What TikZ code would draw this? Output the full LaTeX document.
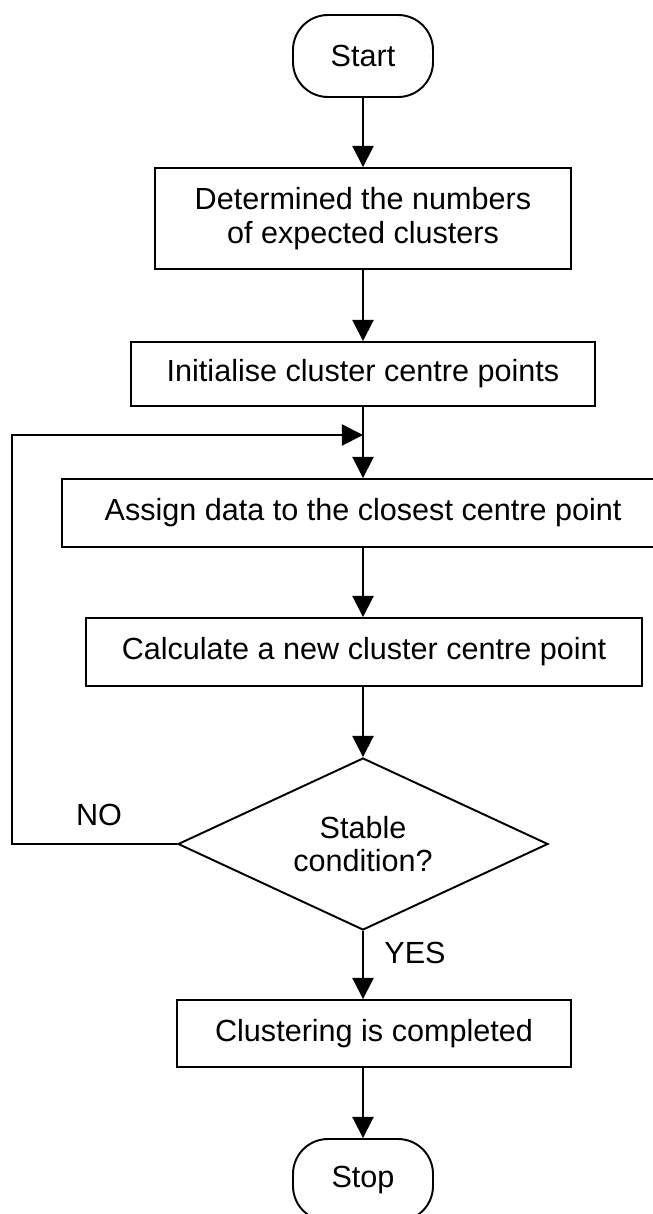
\documentclass[tikz,border=0pt]{standalone}
\usepackage{fontspec}
\setmainfont{Liberation Sans}
\usetikzlibrary{shapes.geometric,arrows.meta}

\begin{document}
\begin{tikzpicture}[
    >={Triangle[width=12pt,length=12pt]},
    every node/.style={font=\fontsize{17.4}{19}\selectfont,align=center},
    box/.style={draw,line width=1.1pt,minimum height=1.36cm,inner sep=2pt},
    terminal/.style={draw,line width=1.1pt,rounded corners=.7cm,minimum width=2.8cm,minimum height=1.64cm},
    decision/.style={draw,diamond,line width=1.1pt,aspect=2.15,minimum width=7.4cm,minimum height=3.44cm,inner sep=1pt},
    flow/.style={line width=1.1pt,->}
  ]

	\useasboundingbox (0,0) rectangle (13.06,-24.28);

	% main column
	\node (start) at (7.26,-1.12) [terminal] {Start};
	\node (det) at (7.26,-4.37) [box,minimum width=8.32cm,minimum height=2.02cm] {Determined the numbers\\ of expected clusters};
	\node (init) at (7.26,-7.48) [box,minimum width=9.28cm,minimum height=1.28cm] {Initialise cluster centre points};
	\node (assign) at (7.26,-10.26) [box,minimum width=12.04cm] {Assign data to the closest centre point};
	\node (calc) at (7.28,-13.04) [box,minimum width=11.12cm] {Calculate a new cluster centre point};
	\node (stable) at (7.26,-16.88) [decision] {Stable\\ condition?};
	\node (done) at (7.48,-20.67) [box,minimum width=7.88cm,minimum height=1.34cm] {Clustering is completed};
	\node (stop) at (7.26,-23.6) [terminal] {Stop};

	\node (no) at (1.98,-16.3) {NO};
	\node (yes) at (8.3,-19.06) {YES};

	\coordinate (join) at (7.26,-8.7);
	\coordinate (back) at (0.24,-16.88);

	\draw[flow] (start.south) -- (start.south |- det.north);
	\draw[flow] (det.south) -- (det.south |- init.north);
	\draw[flow] (init.south) -- (init.south |- assign.north);
	\draw[flow] (assign.south -| init.south) -- (init.south |- calc.north);
	\draw[flow] (stable.north |- calc.south) -- (stable.north);
	\draw[flow] (stable.south) -- (stable.south |- done.north);
	\draw[flow] (done.south -| stop.north) -- (stop.north);

	% loop back when not stable
	\draw[flow] (stable.west) -- (back) |- (join);

\end{tikzpicture}
\end{document}
